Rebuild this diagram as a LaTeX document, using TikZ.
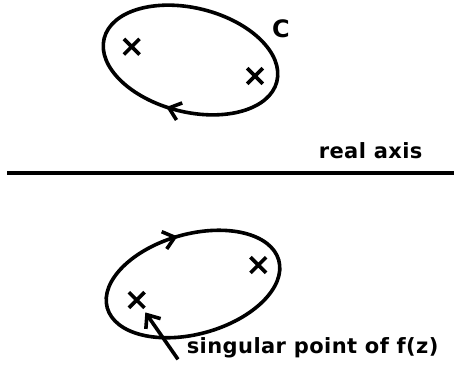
\documentclass[tikz,border=0pt]{standalone}
\usepackage{fontspec}
\usetikzlibrary{arrows.meta,decorations.markings,shapes.misc}
\newfontfamily\letterfont[LetterSpace=2]{DejaVu Sans Bold}
\definecolor{inkblack}{HTML}{000000}

\begin{document}
\begin{tikzpicture}[x=0.5pt,y=-0.5pt,line width=1.8pt,inkblack,
  pole/.style={cross out,draw,minimum size=6pt,inner sep=0pt},
  lbl/.style={font=\letterfont\fontsize{10.5}{12}\selectfont,inner sep=0pt},
  barb/.tip={Straight Barb[length=5.5pt,width=9pt]}]
  \useasboundingbox (0,0) rectangle (454,366);
  % contour C in the upper half plane
  \draw[rotate around={-14:(190.5,60)},postaction={decorate},
    decoration={markings,mark=at position 0.277 with {\arrow{barb}}}]
    (190.5,60) ellipse [x radius=89,y radius=52];
  \node[pole] (p1) at (131.7,46.7) {};
  \node[pole] (p2) at (255,76) {};
  \node[font=\letterfont\fontsize{12}{14}\selectfont] (cname) at (281,29) {C};
  % real axis
  \coordinate (ax0) at (7,173);
  \coordinate (ax1) at (454,173);
  \draw[line width=2.2pt] (ax0) -- (ax1);
  \node[lbl,anchor=base west] (axis) at (317,158) {real axis};
  % contour in the lower half plane
  \draw[rotate around={15.5:(193,284)},postaction={decorate},
    decoration={markings,mark=at position 0.745 with {\arrow{barb}}}]
    (193,284) ellipse [x radius=89,y radius=50];
  \node[pole] (p3) at (136.7,300) {};
  \node[pole] (p4) at (258.3,265) {};
  \node[lbl,anchor=base west] (sing) at (185,353) {singular point of f(z)};
  \draw[-{barb}, shorten >=2.8pt] ([xshift=-3.5pt]sing.south west) -- (p3);
\end{tikzpicture}
\end{document}
